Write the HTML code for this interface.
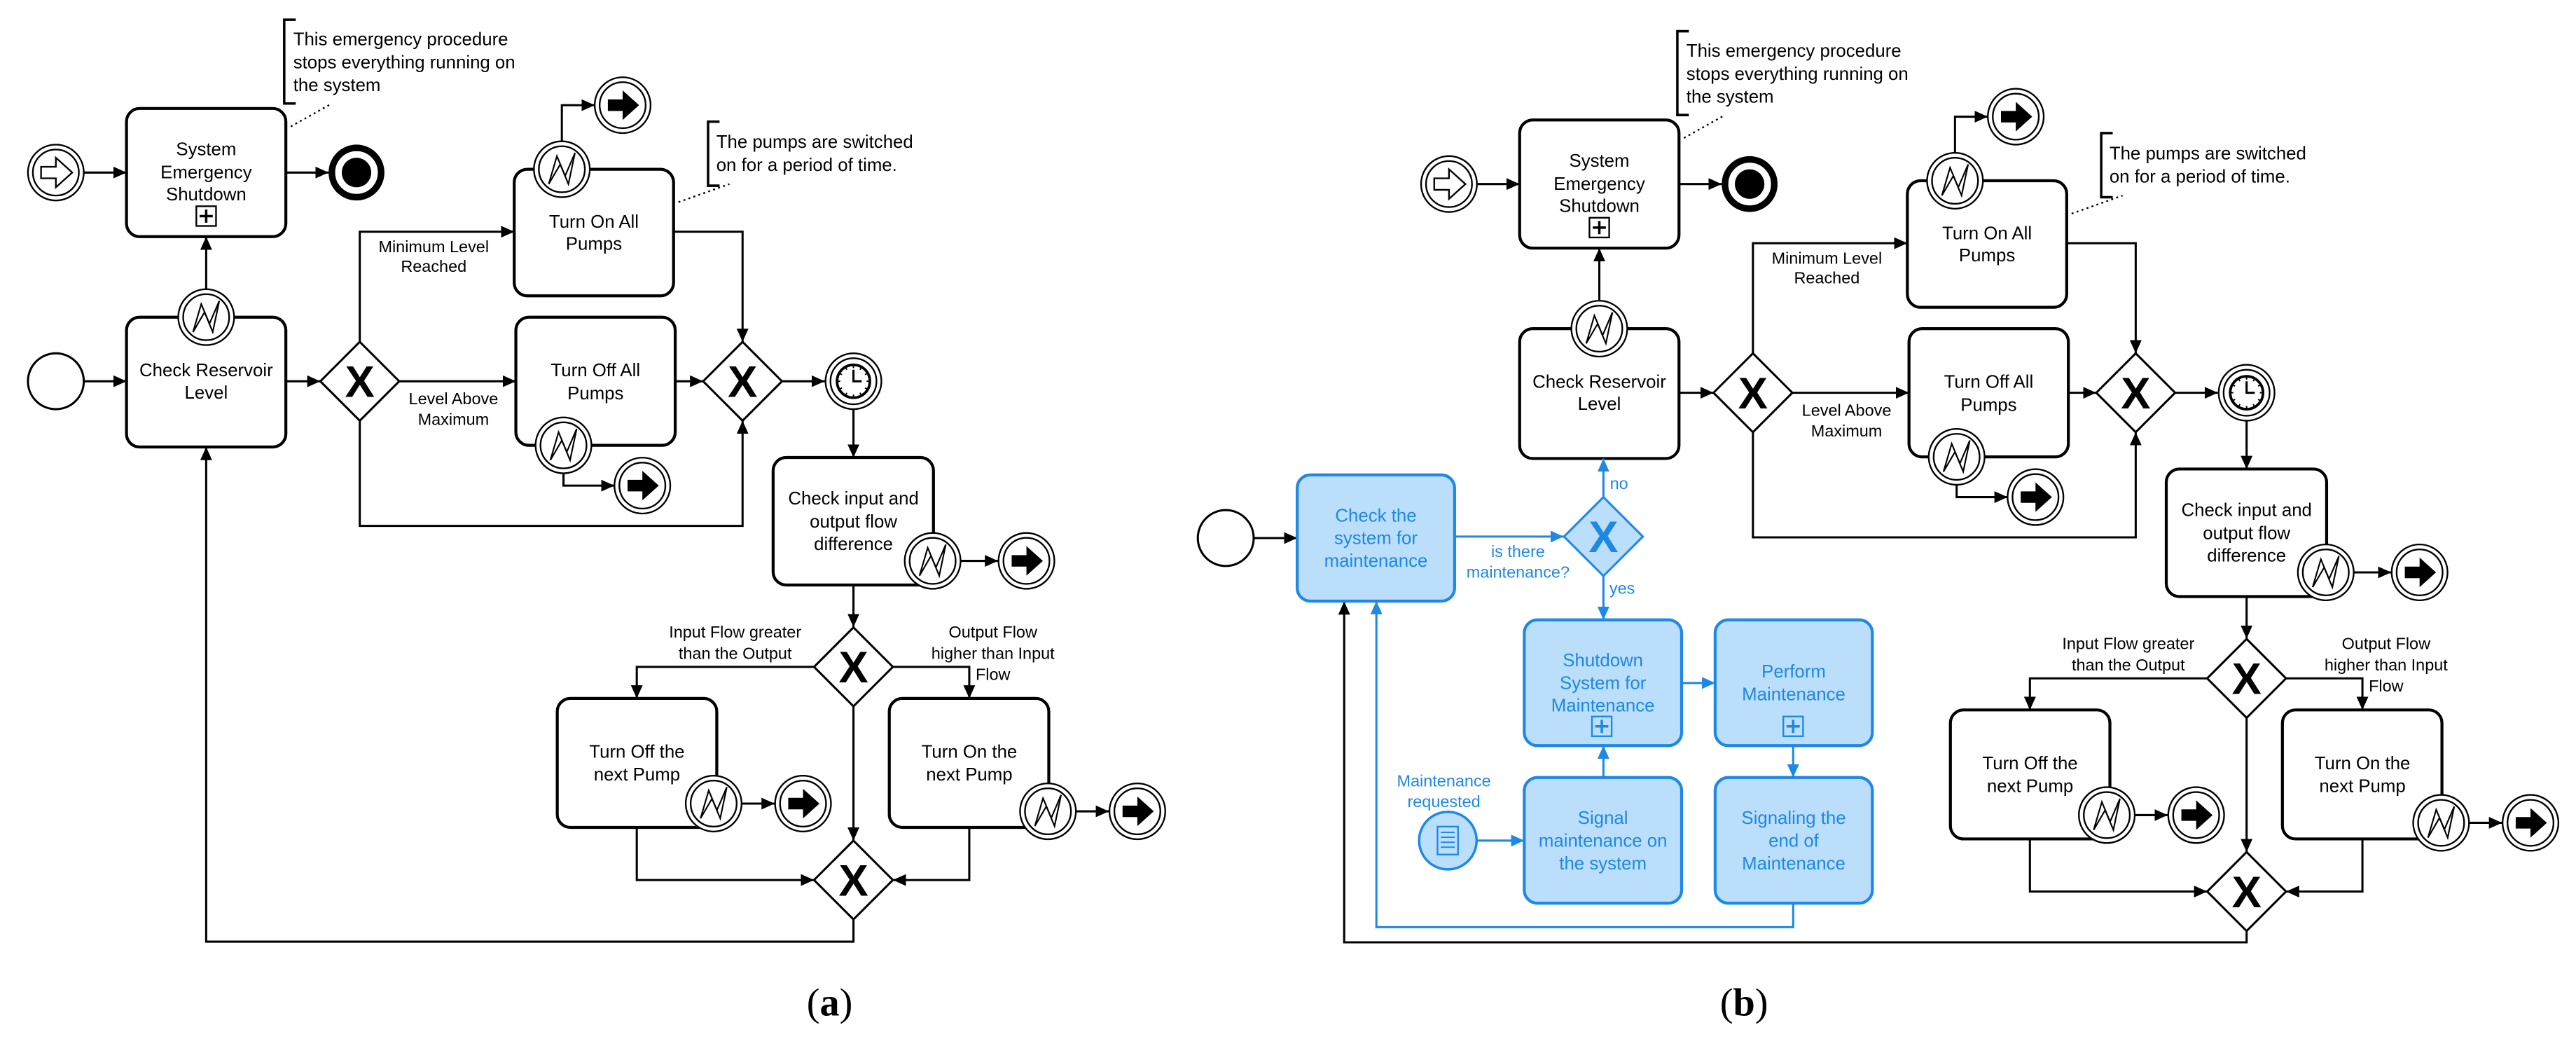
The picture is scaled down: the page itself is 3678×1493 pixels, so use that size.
<!DOCTYPE html>
<html><head><meta charset="utf-8"><style>
html,body{margin:0;padding:0;background:#fff;}
svg{display:block;}
text{font-family:"Liberation Sans",Arial,sans-serif;}
</style></head><body>
<svg xmlns="http://www.w3.org/2000/svg" xmlns:xlink="http://www.w3.org/1999/xlink" width="3678" height="1493" viewBox="0 0 1568 636.5" preserveAspectRatio="none">
<defs>
<marker id="ak" viewBox="0 0 10 10" refX="10" refY="5" markerWidth="8" markerHeight="8" markerUnits="userSpaceOnUse" orient="auto"><path d="M0,0.5 L10,5 L0,9.5 z" fill="#000"/></marker>
<marker id="ab" viewBox="0 0 10 10" refX="10" refY="5" markerWidth="8" markerHeight="8" markerUnits="userSpaceOnUse" orient="auto"><path d="M0,0.5 L10,5 L0,9.5 z" fill="#1E88E5"/></marker>
<g id="err"><circle r="17" fill="#fff" stroke="#000" stroke-width="1"/><circle r="14" fill="none" stroke="#000" stroke-width="1"/><path d="M-8,9 L-3,-8 L2,4 L8,-10 L4,9 L-1,-3 Z" fill="#fff" stroke="#000" stroke-width="0.9"/></g>
<g id="mend"><circle r="17" fill="#fff" stroke="#000" stroke-width="1"/><circle r="14" fill="none" stroke="#000" stroke-width="1"/><path d="M-9,-3.5 H0 V-9 L10,0 L0,9 V3.5 H-9 Z" fill="#000"/></g>
<g id="mstart"><circle r="17" fill="#fff" stroke="#000" stroke-width="1"/><circle r="14" fill="none" stroke="#000" stroke-width="1"/><path d="M-9,-3.5 H0 V-9 L10,0 L0,9 V3.5 H-9 Z" fill="#fff" stroke="#000" stroke-width="1"/></g>
<g id="tmr"><circle r="17" fill="#fff" stroke="#000" stroke-width="1"/><circle r="14" fill="none" stroke="#000" stroke-width="1"/><circle r="10" fill="#fff" stroke="#000" stroke-width="1.6"/><path d="M0,-7 V0 H5" fill="none" stroke="#000" stroke-width="1.3"/><path d="M0,-10 V-8 M0,10 V8 M-10,0 H-8 M10,0 H8 M5,-8.7 L4,-7 M-5,-8.7 L-4,-7 M5,8.7 L4,7 M-5,8.7 L-4,7 M8.7,5 L7,4 M-8.7,5 L-7,4 M8.7,-5 L7,-4 M-8.7,-5 L-7,-4" stroke="#000" stroke-width="0.8"/></g>
<g id="gw"><path d="M0,-24 L24,0 L0,24 L-24,0 Z" fill="#fff" stroke="#000" stroke-width="1.3"/><text x="0" y="9.5" text-anchor="middle" font-size="27" font-weight="bold">X</text></g>
<g id="plus"><rect x="-6" y="-6" width="12" height="12" fill="none" stroke="#000" stroke-width="1"/><path d="M-4,0 H4 M0,-4 V4" stroke="#000" stroke-width="1.5"/></g>
</defs>

<g id="diag">
<path d="M180,12 H173 V63 H180" fill="none" stroke="#000" stroke-width="1.5"/>
<text font-size="11" x="178.5"><tspan x="178.5" y="27.5">This emergency procedure</tspan><tspan x="178.5" y="41.5">stops everything running on</tspan><tspan x="178.5" y="55.5">the system</tspan></text>
<path d="M177,77 L202,63" stroke="#000" stroke-width="1" stroke-dasharray="1.2,2"/>
<rect x="77" y="66" width="97" height="78" rx="8" fill="#fff" stroke="#000" stroke-width="1.8"/>
<text font-size="11" text-anchor="middle"><tspan x="125.5" y="94.5">System</tspan><tspan x="125.5" y="108.5">Emergency</tspan><tspan x="125.5" y="122">Shutdown</tspan></text>
<use xlink:href="#plus" x="125.5" y="131.5"/>
<path d="M174,105 H200" stroke="#000" stroke-width="1.3" marker-end="url(#ak)"/>
<circle cx="217" cy="105" r="15" fill="#fff" stroke="#000" stroke-width="4"/>
<circle cx="217" cy="105" r="9" fill="#000"/>
<use xlink:href="#mstart" x="34" y="105"/>
<path d="M51,105 H77" stroke="#000" stroke-width="1.3" marker-end="url(#ak)"/>
<rect x="77" y="193" width="97" height="79" rx="8" fill="#fff" stroke="#000" stroke-width="1.8"/>
<text font-size="11" text-anchor="middle"><tspan x="125.5" y="229">Check Reservoir</tspan><tspan x="125.5" y="242.5">Level</tspan></text>
<path d="M125.5,176 V144" stroke="#000" stroke-width="1.3" marker-end="url(#ak)"/>
<use xlink:href="#err" x="125.5" y="193"/>
<path d="M174,232 H195" stroke="#000" stroke-width="1.3" marker-end="url(#ak)"/>
<use xlink:href="#gw" x="219" y="232"/>
<path d="M219,208 V141 H313" fill="none" stroke="#000" stroke-width="1.3" marker-end="url(#ak)"/>
<text font-size="10" text-anchor="middle"><tspan x="264" y="153.5">Minimum Level</tspan><tspan x="264" y="165.5">Reached</tspan></text>
<path d="M243,232 H314" stroke="#000" stroke-width="1.3" marker-end="url(#ak)"/>
<text font-size="10" text-anchor="middle"><tspan x="276" y="246">Level Above</tspan><tspan x="276" y="258.5">Maximum</tspan></text>
<path d="M219,256 V320 H452 V256" fill="none" stroke="#000" stroke-width="1.3" marker-end="url(#ak)"/>
<rect x="313" y="103" width="97" height="77" rx="8" fill="#fff" stroke="#000" stroke-width="1.8"/>
<text font-size="11" text-anchor="middle"><tspan x="361.5" y="138.5">Turn On All</tspan><tspan x="361.5" y="152">Pumps</tspan></text>
<path d="M342,86 V64 H362" fill="none" stroke="#000" stroke-width="1.3" marker-end="url(#ak)"/>
<use xlink:href="#err" x="342" y="103"/>
<use xlink:href="#mend" x="379" y="64"/>
<path d="M438,74 H431 V113 H438" fill="none" stroke="#000" stroke-width="1.5"/>
<text font-size="11"><tspan x="436" y="90">The pumps are switched</tspan><tspan x="436" y="104">on for a period of time.</tspan></text>
<path d="M413,123 L444,112" stroke="#000" stroke-width="1" stroke-dasharray="1.2,2"/>
<path d="M410,141 H452 V208" fill="none" stroke="#000" stroke-width="1.3" marker-end="url(#ak)"/>
<rect x="314" y="193" width="97" height="78" rx="8" fill="#fff" stroke="#000" stroke-width="1.8"/>
<text font-size="11" text-anchor="middle"><tspan x="362.5" y="229">Turn Off All</tspan><tspan x="362.5" y="243">Pumps</tspan></text>
<path d="M343,288 V295.5 H374" fill="none" stroke="#000" stroke-width="1.3" marker-end="url(#ak)"/>
<use xlink:href="#err" x="343" y="271"/>
<use xlink:href="#mend" x="391" y="295.5"/>
<path d="M411,232 H428" stroke="#000" stroke-width="1.3" marker-end="url(#ak)"/>
<use xlink:href="#gw" x="452" y="232"/>
<path d="M476,232 H502" stroke="#000" stroke-width="1.3" marker-end="url(#ak)"/>
<use xlink:href="#tmr" x="519.5" y="232"/>
<path d="M519.5,249 V278.4" stroke="#000" stroke-width="1.3" marker-end="url(#ak)"/>
<rect x="470.6" y="278.4" width="97.6" height="77.6" rx="8" fill="#fff" stroke="#000" stroke-width="1.8"/>
<text font-size="11" text-anchor="middle"><tspan x="519.5" y="307">Check input and</tspan><tspan x="519.5" y="321">output flow</tspan><tspan x="519.5" y="334.6">difference</tspan></text>
<path d="M585,341.3 H607.5" stroke="#000" stroke-width="1.3" marker-end="url(#ak)"/>
<use xlink:href="#err" x="567.7" y="341.3"/>
<use xlink:href="#mend" x="624.8" y="341.3"/>
<path d="M519.5,356 V381.6" stroke="#000" stroke-width="1.3" marker-end="url(#ak)"/>
<use xlink:href="#gw" x="519.5" y="405.8"/>
<path d="M495.5,405.8 H387.6 V425" fill="none" stroke="#000" stroke-width="1.3" marker-end="url(#ak)"/>
<text font-size="10" text-anchor="middle"><tspan x="447.5" y="388">Input Flow greater</tspan><tspan x="447.5" y="401">than the Output</tspan></text>
<path d="M543.5,405.8 H590 V425" fill="none" stroke="#000" stroke-width="1.3" marker-end="url(#ak)"/>
<text font-size="10" text-anchor="middle"><tspan x="604.4" y="388">Output Flow</tspan><tspan x="604.4" y="401">higher than Input</tspan><tspan x="604.4" y="413.8">Flow</tspan></text>
<rect x="339.2" y="425" width="97.1" height="78.5" rx="8" fill="#fff" stroke="#000" stroke-width="1.8"/>
<text font-size="11" text-anchor="middle"><tspan x="387.7" y="461">Turn Off the</tspan><tspan x="387.7" y="475">next Pump</tspan></text>
<path d="M451.8,489 H471.5" stroke="#000" stroke-width="1.3" marker-end="url(#ak)"/>
<use xlink:href="#err" x="434.4" y="489"/>
<use xlink:href="#mend" x="488.8" y="489"/>
<rect x="541.3" y="425" width="97.1" height="78.5" rx="8" fill="#fff" stroke="#000" stroke-width="1.8"/>
<text font-size="11" text-anchor="middle"><tspan x="590" y="461">Turn On the</tspan><tspan x="590" y="475">next Pump</tspan></text>
<path d="M655.3,493.7 H675" stroke="#000" stroke-width="1.3" marker-end="url(#ak)"/>
<use xlink:href="#err" x="637.9" y="493.7"/>
<use xlink:href="#mend" x="692.3" y="493.7"/>
<path d="M519.5,429.8 V511.5" stroke="#000" stroke-width="1.3" marker-end="url(#ak)"/>
<path d="M387.6,503.5 V535.5 H495.5" fill="none" stroke="#000" stroke-width="1.3" marker-end="url(#ak)"/>
<path d="M590,503.5 V535.5 H543.5" fill="none" stroke="#000" stroke-width="1.3" marker-end="url(#ak)"/>
<use xlink:href="#gw" x="519.5" y="535.5"/>
</g>

<circle cx="34" cy="232" r="17" fill="#fff" stroke="#000" stroke-width="1.3"/>
<path d="M51,232 H77" stroke="#000" stroke-width="1.3" marker-end="url(#ak)"/>
<path d="M519.5,559.5 V573 H125.5 V272" fill="none" stroke="#000" stroke-width="1.3" marker-end="url(#ak)"/>
<text x="505" y="618" text-anchor="middle" font-size="24" style="font-family:'Liberation Serif',serif">(<tspan font-weight="bold">a</tspan>)</text>

<use xlink:href="#diag" x="848" y="7"/>
<path d="M1367.5,566.5 V573.4 H818.2 V366" fill="none" stroke="#000" stroke-width="1.3" marker-end="url(#ak)"/>

<circle cx="746.1" cy="327.4" r="17" fill="#fff" stroke="#000" stroke-width="1.3"/>
<path d="M763,327.4 H789.6" stroke="#000" stroke-width="1.3" marker-end="url(#ak)"/>
<g fill="#BBDEFB" stroke="#1E88E5" stroke-width="1.8">
<rect x="789.6" y="289" width="95.8" height="76.8" rx="8"/>
<rect x="927.8" y="377.2" width="95.8" height="76.5" rx="8"/>
<rect x="1044" y="377.2" width="95.7" height="76.5" rx="8"/>
<rect x="927.8" y="473.1" width="95.8" height="76.5" rx="8"/>
<rect x="1044" y="473.1" width="95.7" height="76.5" rx="8"/>
</g>
<g fill="#1E88E5" font-size="11" text-anchor="middle">
<text><tspan x="837.5" y="317.3">Check the</tspan><tspan x="837.5" y="331">system for</tspan><tspan x="837.5" y="344.8">maintenance</tspan></text>
<text><tspan x="975.7" y="405.5">Shutdown</tspan><tspan x="975.7" y="419.3">System for</tspan><tspan x="975.7" y="433">Maintenance</tspan></text>
<text><tspan x="1091.8" y="412.3">Perform</tspan><tspan x="1091.8" y="426.1">Maintenance</tspan></text>
<text><tspan x="975.7" y="501.4">Signal</tspan><tspan x="975.7" y="515.2">maintenance on</tspan><tspan x="975.7" y="529">the system</tspan></text>
<text><tspan x="1091.8" y="501.4">Signaling the</tspan><tspan x="1091.8" y="515.2">end of</tspan><tspan x="1091.8" y="529">Maintenance</tspan></text>
</g>
<g fill="none" stroke="#1E88E5" stroke-width="1">
<rect x="969" y="436" width="12" height="12"/><path d="M971,442 H979 M975,438 V446" stroke-width="1.5"/>
<rect x="1085.5" y="436" width="12" height="12"/><path d="M1087.5,442 H1095.5 M1091.5,438 V446" stroke-width="1.5"/>
</g>
<path d="M976,302.5 L1000,326.5 L976,350.5 L952,326.5 Z" fill="#BBDEFB" stroke="#1E88E5" stroke-width="1.3"/>
<text x="976" y="336" text-anchor="middle" font-size="27" font-weight="bold" fill="#1E88E5">X</text>
<g stroke="#1E88E5" stroke-width="1.3" fill="none">
<path d="M885.4,326.5 H951.8" marker-end="url(#ab)"/>
<path d="M976,302.5 V279" marker-end="url(#ab)"/>
<path d="M976,350.5 V377.2" marker-end="url(#ab)"/>
<path d="M976,473.1 V453.7" marker-end="url(#ab)"/>
<path d="M1023.6,415.6 H1044" marker-end="url(#ab)"/>
<path d="M1091.5,453.7 V473.1" marker-end="url(#ab)"/>
<path d="M899,511.5 H927.8" marker-end="url(#ab)"/>
<path d="M1091.5,549.6 V564.2 H837.8 V365.8" marker-end="url(#ab)"/>
</g>
<g fill="#1E88E5" font-size="10" text-anchor="middle">
<text><tspan x="924" y="339">is there</tspan><tspan x="924" y="351.6">maintenance?</tspan></text>
<text x="985.5" y="297.5">no</text>
<text x="987.4" y="361.3">yes</text>
<text><tspan x="878.9" y="478.5">Maintenance</tspan><tspan x="878.9" y="491.2">requested</tspan></text>
</g>
<circle cx="881.3" cy="511.5" r="17.5" fill="#BBDEFB" stroke="#1E88E5" stroke-width="1.5"/>
<rect x="875" y="503" width="12.5" height="17" fill="#BBDEFB" stroke="#1E88E5" stroke-width="1"/>
<path d="M877,506.5 H885.5 M877,509.5 H885.5 M877,512.5 H885.5 M877,515.5 H885.5" stroke="#1E88E5" stroke-width="0.8"/>
<text x="1061.6" y="618" text-anchor="middle" font-size="24" style="font-family:'Liberation Serif',serif">(<tspan font-weight="bold">b</tspan>)</text>
</svg>
</body></html>
